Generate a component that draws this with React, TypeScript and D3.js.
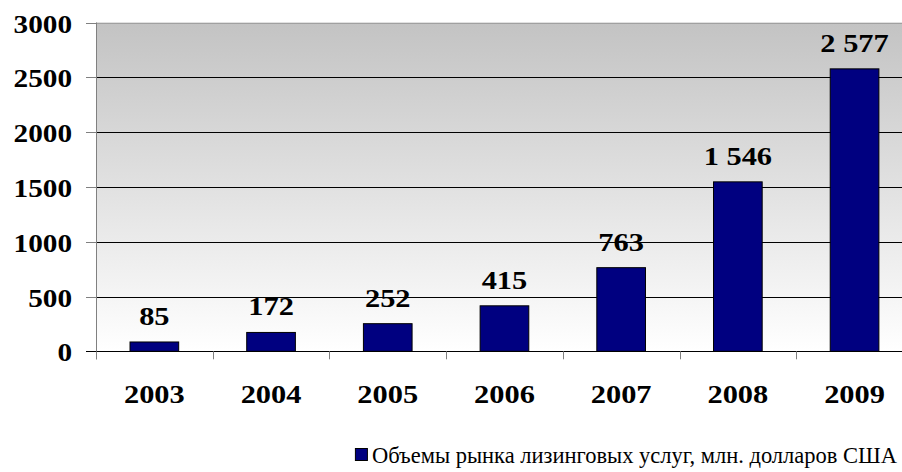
import React, { useRef, useEffect } from 'react';
import * as d3 from 'd3';

const years = ['2003', '2004', '2005', '2006', '2007', '2008', '2009'];
const values = [85, 172, 252, 415, 763, 1546, 2577];
const valueLabels = ['85', '172', '252', '415', '763', '1 546', '2 577'];
const yTicks = [0, 500, 1000, 1500, 2000, 2500, 3000];
const legendLabel = 'Объемы рынка лизинговых услуг, млн. долларов США';

const WIDTH = 902;
const HEIGHT = 472;
const STRETCH = 1.17; // the original picture is a bit wider than tall
const FONT = "'Liberation Serif', 'Times New Roman', Times, serif";

const App: React.FC = () => {
  const svgRef = useRef<SVGSVGElement>(null);

  useEffect(() => {
    if (!svgRef.current) return;
    const svg = d3.select(svgRef.current);
    svg.selectAll('*').remove();

    const left = 96;
    const step = 116.7;
    const x = d3.scaleBand<string>()
      .domain(years)
      .range([left, left + step * years.length])
      .paddingInner(0.583)
      .paddingOuter(0.2915);

    const y = d3.scaleLinear()
      .domain([0, 3000])
      .range([351.3, 22.5]);

    const plotRight = left + step * years.length;

    // fond dégradé
    const grad = svg.append('defs').append('linearGradient')
      .attr('id', 'bg')
      .attr('x1', 0).attr('y1', 0).attr('x2', 0).attr('y2', 1);
    grad.append('stop').attr('offset', '0%').attr('stop-color', '#c3c3c3');
    grad.append('stop').attr('offset', '100%').attr('stop-color', '#ffffff');

    svg.append('rect')
      .attr('x', left)
      .attr('y', y(3000))
      .attr('width', plotRight - left)
      .attr('height', y(0) - y(3000))
      .attr('fill', 'url(#bg)');

    // lignes de grille
    svg.append('g')
      .selectAll('line')
      .data(yTicks.filter(t => t > 0 && t < 3000))
      .join('line')
      .attr('x1', left)
      .attr('x2', plotRight)
      .attr('y1', d => Math.round(y(d)) + 0.5)
      .attr('y2', d => Math.round(y(d)) + 0.5)
      .attr('stroke', '#000')
      .attr('stroke-width', 1);

    // bordure haute
    svg.append('line')
      .attr('x1', left).attr('x2', plotRight)
      .attr('y1', Math.round(y(3000)) + 0.5).attr('y2', Math.round(y(3000)) + 0.5)
      .attr('stroke', '#a0a0a0');

    // barres
    svg.append('g')
      .selectAll('rect')
      .data(values)
      .join('rect')
      .attr('x', (d, i) => x(years[i]) as number)
      .attr('y', d => y(d))
      .attr('width', x.bandwidth())
      .attr('height', d => y(0) - y(d))
      .attr('fill', '#000080')
      .attr('stroke', '#000')
      .attr('stroke-width', 1);

    // axe Y
    svg.append('line')
      .attr('x1', left + 0.5).attr('x2', left + 0.5)
      .attr('y1', y(3000)).attr('y2', y(0) + 8)
      .attr('stroke', '#808080');

    svg.append('g')
      .selectAll('line')
      .data(yTicks)
      .join('line')
      .attr('x1', left - 10)
      .attr('x2', left)
      .attr('y1', d => Math.round(y(d)) + 0.5)
      .attr('y2', d => Math.round(y(d)) + 0.5)
      .attr('stroke', d => (d === 0 ? '#000' : '#808080'));

    // axe X
    svg.append('line')
      .attr('x1', left).attr('x2', plotRight)
      .attr('y1', Math.round(y(0)) + 0.5).attr('y2', Math.round(y(0)) + 0.5)
      .attr('stroke', '#000');

    svg.append('g')
      .selectAll('line')
      .data(d3.range(years.length + 1))
      .join('line')
      .attr('x1', i => Math.round(left + i * step) + 0.5)
      .attr('x2', i => Math.round(left + i * step) + 0.5)
      .attr('y1', y(0))
      .attr('y2', y(0) + 8)
      .attr('stroke', '#808080');

    const addText = (tx: number, ty: number, txt: string, anchor: string, bold: boolean, size: number, sx = STRETCH) =>
      svg.append('text')
        .attr('transform', `translate(${tx},${ty}) scale(${sx},1)`)
        .attr('text-anchor', anchor)
        .style('font-family', FONT)
        .style('font-weight', bold ? 'bold' : 'normal')
        .style('font-size', `${size}px`)
        .attr('fill', '#000')
        .text(txt);

    yTicks.forEach(t => addText(72, y(t) + 10, String(t), 'end', true, 25));

    years.forEach(yr => addText((x(yr) as number) + x.bandwidth() / 2, 403, yr, 'middle', true, 26));

    values.forEach((v, i) =>
      addText((x(years[i]) as number) + x.bandwidth() / 2, y(v) - 17, valueLabels[i], 'middle', true, 26));

    // légende
    const legendEnd = 897;
    const lt = addText(legendEnd, 463, legendLabel, 'end', false, 22.5, 1);
    const w = (lt.node() as SVGTextElement).getComputedTextLength();
    const start = legendEnd - w;
    svg.append('rect')
      .attr('x', start - 16.5)
      .attr('y', 448.5)
      .attr('width', 12)
      .attr('height', 12)
      .attr('fill', '#000080')
      .attr('stroke', '#000')
      .attr('stroke-width', 1);
  }, []);

  return (
    <svg
      ref={svgRef}
      width={WIDTH}
      height={HEIGHT}
      style={{ position: 'absolute', left: 0, top: 0, background: '#fff' }}
    />
  );
};

export default App;
